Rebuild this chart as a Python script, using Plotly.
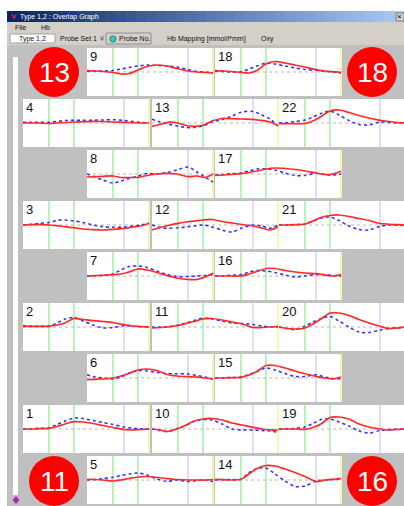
import plotly.graph_objects as go

# ---------------- data ----------------
time = [0, 8, 16, 26, 34, 42, 51, 60, 70, 80, 90, 101, 110, 118, 126]
marker_times = [26, 51, 101, 126]
marker_colors = ["#88ee88", "#88ee88", "#c8c8f4", "#f0f080"]

type1_ch1 = [0, 0, 0.3, 0.7, 2.5, 5, 7.3, 7, 5.5, 3.5, 1.5, -0.5, -1, -0.5, 0]
type2_ch1 = [0, 0.3, 0.7, 1.3, 4.5, 8, 11, 10.5, 8.5, 6.5, 4.5, 2, 0.7, 0.3, 0]
type1_ch2 = [0.7, 0.7, 0.7, 0.7, 2, 4, 8.5, 7.5, 6.3, 5.5, 4.5, 2.3, 1, 0.5, 0]
type2_ch2 = [1.3, 1, 0.7, 1, 4, 8, 9.5, 6, 2, -1, -0.5, 1.3, 0.7, 0.3, 0]
type1_ch3 = [0, 0.3, 0.7, 0, -0.7, -1.7, -2.7, -4, -4.7, -5, -4.3, -3.3, -2, -1, 1.7]
type2_ch3 = [0, 0.7, 1.5, 2.5, 4.5, 5, 4, 2.5, 0, -1.7, -2.3, -2, -1, 0, 1.7]
type1_ch4 = [0, 0, 0, -0.5, 0, 0.5, 1, 1.3, 1.7, 1.5, 1, 0.7, 0.3, 0, 0]
type2_ch4 = [0.7, 0.7, 0.7, 0.8, 1.5, 2.5, 2.7, 2.7, 2.8, 3, 3.3, 2.5, 1.5, 0.5, 0]
type1_ch5 = [0.7, 0.5, 0, -1, 0, 1.5, 3, 3.5, 2.5, 1.5, 0.5, 0, 0, 0, 0.5]
type2_ch5 = [0, 0.5, 1.5, 2.7, 4.5, 6, 7, 5, 1, -1.5, 0, -1.5, -0.5, 0, -1.5]
type1_ch6 = [-1.7, -1.3, -1, 0, 2, 4.5, 8, 9, 7.5, 3.5, 2, 1.3, 1, 0, -1]
type2_ch6 = [3.3, 1, 0, -1, 1, 5, 7.5, 7, 5.5, 4.5, 4.3, 4, 2.5, 1, -1]
type1_ch7 = [0, 0.3, 0.7, 1.3, 2, 4, 7, 6, 3.5, 0.5, -2, -3.5, -3.5, -1, 3]
type2_ch7 = [0, 0.3, 0.7, 2, 6, 9.5, 10, 8.5, 5, 1.5, -0.5, -0.5, 0, 0.5, 1.3]
type1_ch8 = [-3, -2.7, -2.3, -2, -3.5, -3.5, -3.3, -1.5, 0, 0.7, 0, -2.7, -2, -3.5, 0]
type2_ch8 = [0, -3, -6, -9, -7, -4.5, -2, 0.5, 0, 1.5, 4, 7, 2, -3, -8]
type1_ch9 = [1.3, 1, 0.5, -0.5, -2, -1.5, 2, 5.5, 7, 6, 3.5, 1, 0, -0.5, -1]
type2_ch9 = [0.7, 0.8, 1, 1.5, 3, 4.5, 6, 7, 6.5, 6, 5, 2.5, 0.5, 0, -1]
type1_ch10 = [0, -1, -2.5, 0.5, 4, 8, 10, 10.5, 9, 6, 4, 1.7, 0, -1, -1]
type2_ch10 = [0, -1.5, -2.5, 0.7, 3.5, 7.5, 9.5, 9, 5, 0, -1, -1, -1.5, -2, -3.3]
type1_ch11 = [-1, -0.5, 0, 1.5, 3.5, 5.5, 8, 8.5, 7, 5, 3, -0.5, -0.5, 0, 0.7]
type2_ch11 = [-0.3, 0, 0.3, 2, 4, 6.5, 9, 8, 6, 4, 3.5, 2.5, 1, 0.3, 0]
type1_ch12 = [-5, -2.5, -0.5, 1.7, 3, 4, 5, 5.5, 3.5, 2, 0.5, -1, -3, -5, -1.7]
type2_ch12 = [0, -2.5, -3.3, -2.7, -2, -1, 0, -2, -5, -7, -3, 0, -1, -3.3, 0]
type1_ch13 = [-3.3, -1.5, 0.7, 0, -2.5, -3.3, -2.3, 2, 4.5, 4.3, 4, 3.7, 2.5, 1, -2.5]
type2_ch13 = [3.7, 1, -1, -3.3, -4.5, -4.5, -3, 1, 3.5, 7, 11, 11.5, 8, 4, -3.3]
type1_ch14 = [0.7, 0.3, 0, 0.7, 6, 11.5, 14.5, 14, 11, 7.5, 3.5, -1.5, 0, 0.7, 1.7]
type2_ch14 = [0, 0.3, 0.5, 0.7, 7.5, 11.5, 12, 6, -1, -6.5, -6, -1, 0, 0.5, 0.7]
type1_ch15 = [0, 0, 0.3, 0.7, 3, 6.5, 12.5, 12.5, 10, 7, 4.3, 1.7, 0, -1, 1]
type2_ch15 = [0, 0.3, 0.5, 1, 3.5, 6.5, 10, 8, 4.5, 1.5, 1.5, 3.3, 1, -0.5, -1]
type1_ch16 = [0, 0, 0, 0, 2, 4.5, 7.5, 7.5, 5.5, 4, 3, 2.3, 1, 0, 1.3]
type2_ch16 = [0, 0.3, 0.7, 1.5, 4, 5.5, 5, 3.5, 1, -1, 0, 1.5, 1.5, 0.5, -0.3]
type1_ch17 = [-1.3, -1, -0.5, 0.3, 1.5, 3, 5, 6, 5.5, 4.5, 3, 1, -0.5, 0, 2.7]
type2_ch17 = [-1.3, -0.5, 0.3, 1, 3, 5, 5.3, 4, 1, -1.5, -1.5, 0.7, -0.5, -1, 0]
type1_ch18 = [1.3, 1, 0.5, -0.5, -1, 1.5, 8, 10.5, 9, 7, 5, 2.3, 1, 0.3, -0.3]
type2_ch18 = [0.7, 0.5, 0, 0.3, 3, 6, 9, 8, 6, 4, 2.5, 1.7, 0.7, 0, -1]
type1_ch19 = [0, 0, 0, -0.3, 1.5, 5, 11.5, 12, 10, 5, 2, 0, -1, -0.5, 0]
type2_ch19 = [0, 0, 0.7, 2, 5.5, 9.5, 10, 7, 3, -2, -4, -1.5, -0.5, 0, 0]
type1_ch20 = [0, -1.5, -2, -1, 3, 8, 14, 14, 11.5, 7.5, 4, 0.7, -1.5, -1, 0]
type2_ch20 = [0, -1.5, -2.7, 1, 5, 8.5, 10.5, 6, 0, -5, -5.5, -3, -1.5, -1, -1]
type1_ch21 = [0, 0, 0.3, 1, 4, 7.5, 9.5, 10, 8.5, 6.5, 4.5, 1.5, 0.7, 0.3, 0]
type2_ch21 = [0, 0, 0.3, 1, 4, 7, 8, 4.5, -1, -4.5, -5, -1.5, 0, -0.3, -0.5]
type1_ch22 = [-0.7, -0.7, -0.7, -0.5, 2, 6.5, 12, 13, 10.5, 7.5, 5, 2.7, 1.5, 0.5, 0]
type2_ch22 = [0, 0.5, 1.5, 3, 6, 9.5, 12, 8, 2.5, -1.5, -2, 1, 0.5, 0, 0]

type1 = {1: type1_ch1, 2: type1_ch2, 3: type1_ch3, 4: type1_ch4, 5: type1_ch5, 6: type1_ch6,
         7: type1_ch7, 8: type1_ch8, 9: type1_ch9, 10: type1_ch10, 11: type1_ch11, 12: type1_ch12,
         13: type1_ch13, 14: type1_ch14, 15: type1_ch15, 16: type1_ch16, 17: type1_ch17,
         18: type1_ch18, 19: type1_ch19, 20: type1_ch20, 21: type1_ch21, 22: type1_ch22}
type2 = {1: type2_ch1, 2: type2_ch2, 3: type2_ch3, 4: type2_ch4, 5: type2_ch5, 6: type2_ch6,
         7: type2_ch7, 8: type2_ch8, 9: type2_ch9, 10: type2_ch10, 11: type2_ch11, 12: type2_ch12,
         13: type2_ch13, 14: type2_ch14, 15: type2_ch15, 16: type2_ch16, 17: type2_ch17,
         18: type2_ch18, 19: type2_ch19, 20: type2_ch20, 21: type2_ch21, 22: type2_ch22}

circle_labels = ["13", "18", "11", "16"]

# ---------------- layout geometry (pixels) ----------------
W, H = 404, 506
PW, PH = 127, 48
panel_pos = {9: (87, 48), 18: (215, 48),
             4: (23, 99), 13: (152, 99), 22: (279, 99),
             8: (87, 150), 17: (215, 150),
             3: (23, 201), 12: (152, 201), 21: (279, 201),
             7: (87, 252), 16: (215, 252),
             2: (23, 303), 11: (152, 303), 20: (279, 303),
             6: (87, 354), 15: (215, 354),
             1: (23, 405), 10: (152, 405), 19: (279, 405),
             5: (87, 456), 14: (215, 456)}
circle_pos = [(54, 72), (372, 72), (54, 481), (372, 481)]


def px(x):
    return x / W


def py(y):
    return 1 - y / H


fig = go.Figure()
shapes = []
annotations = []
layout_axes = {}

for k, ch in enumerate(sorted(panel_pos), start=1):
    x0, y0 = panel_pos[ch]
    x1 = min(x0 + PW, W)
    xa = "x" if k == 1 else f"x{k}"
    ya = "y" if k == 1 else f"y{k}"
    xname = "xaxis" if k == 1 else f"xaxis{k}"
    yname = "yaxis" if k == 1 else f"yaxis{k}"
    layout_axes[xname] = dict(domain=[px(x0), px(x1)], range=[0, x1 - x0], visible=False,
                              anchor=ya, fixedrange=True)
    layout_axes[yname] = dict(domain=[py(y0 + PH), py(y0)], range=[-24, 24], visible=False,
                              anchor=xa, fixedrange=True)
    for t, c in zip(marker_times, marker_colors):
        shapes.append(dict(type="line", xref=xa, yref=f"{ya} domain", x0=t, x1=t, y0=0, y1=1,
                           line=dict(color=c, width=1.2), layer="below"))
    shapes.append(dict(type="line", xref=f"{xa} domain", yref=ya, x0=0, x1=1, y0=0, y1=0,
                       line=dict(color="#b8b8b8", width=1, dash="dot"), layer="below"))
    fig.add_trace(go.Scatter(x=time, y=type2[ch], mode="lines", xaxis=xa, yaxis=ya,
                             line=dict(color="#2b2bff", width=1.5, dash="dot", shape="spline",
                                       smoothing=0.8),
                             showlegend=False, hoverinfo="skip"))
    fig.add_trace(go.Scatter(x=time, y=type1[ch], mode="lines", xaxis=xa, yaxis=ya,
                             line=dict(color="#ff2a2a", width=1.7, shape="spline", smoothing=0.8),
                             showlegend=False, hoverinfo="skip"))
    annotations.append(dict(text=str(ch), xref=f"{xa} domain", yref=f"{ya} domain",
                            x=0.0, y=1.02, xanchor="left", yanchor="top", showarrow=False,
                            xshift=1, font=dict(size=13, color="#111111",
                                                family="Liberation Sans, Arial")))

# ---------------- window chrome ----------------
shapes.append(dict(type="rect", xref="paper", yref="paper", x0=0, x1=px(7), y0=0, y1=1,
                   fillcolor="white", line_width=0, layer="above"))
shapes.append(dict(type="rect", xref="paper", yref="paper", x0=0, x1=1, y0=py(11), y1=1,
                   fillcolor="white", line_width=0, layer="above"))
n_steps = 40
c0 = (10, 36, 106)
c1 = (166, 202, 240)
for i in range(n_steps):
    f = i / (n_steps - 1)
    col = "rgb({},{},{})".format(*[int(a + (b - a) * f) for a, b in zip(c0, c1)])
    xa0 = 7 + (W - 7) * i / n_steps
    xa1 = 7 + (W - 7) * (i + 1) / n_steps + 0.5
    shapes.append(dict(type="rect", xref="paper", yref="paper", x0=px(xa0), x1=px(xa1),
                       y0=py(22), y1=py(11), fillcolor=col, line_width=0, layer="above"))
shapes.append(dict(type="rect", xref="paper", yref="paper", x0=px(7), x1=1, y0=py(45), y1=py(22),
                   fillcolor="#d4d0c8", line_width=0, layer="above"))
shapes.append(dict(type="rect", xref="paper", yref="paper", x0=px(396), x1=px(404), y0=py(21),
                   y1=py(13), fillcolor="#d4d0c8", line=dict(color="#808080", width=1),
                   layer="above"))
shapes.append(dict(type="rect", xref="paper", yref="paper", x0=px(10), x1=px(55), y0=py(43),
                   y1=py(34), fillcolor="white", line=dict(color="#a0a0a0", width=1),
                   layer="above"))
shapes.append(dict(type="rect", xref="paper", yref="paper", x0=px(106), x1=px(151), y0=py(44),
                   y1=py(33), fillcolor="#d4d0c8", line=dict(color="#909090", width=1),
                   layer="above"))
shapes.append(dict(type="circle", xref="paper", yref="paper", x0=px(110), x1=px(116),
                   y0=py(42), y1=py(36), fillcolor="#30d0c0", line=dict(color="#208080", width=1),
                   layer="above"))
shapes.append(dict(type="rect", xref="paper", yref="paper", x0=px(13), x1=px(18), y0=py(495),
                   y1=py(57), fillcolor="white", line_width=0, layer="above"))
shapes.append(dict(type="path", xref="paper", yref="paper",
                   path="M {} {} L {} {} L {} {} L {} {} Z".format(
                       px(16), py(496), px(19.5), py(500), px(16), py(504), px(12.5), py(500)),
                   fillcolor="#b020c0", line_width=0, layer="above"))

for (cx, cy), lab in zip(circle_pos, circle_labels):
    shapes.append(dict(type="circle", xref="paper", yref="paper", x0=px(cx - 25), x1=px(cx + 25),
                       y0=py(cy + 25), y1=py(cy - 25), fillcolor="#ff0000", line_width=0,
                       layer="above"))
    annotations.append(dict(text=lab, xref="paper", yref="paper", x=px(cx), y=py(cy),
                            xanchor="center", yanchor="middle", showarrow=False,
                            font=dict(size=28, color="white", family="Liberation Sans, Arial")))

ui_font = dict(size=7, color="#101010", family="Liberation Sans, Arial")


def ui_text(text, x, y, font=None, anchor="left"):
    annotations.append(dict(text=text, xref="paper", yref="paper", x=px(x), y=py(y),
                            xanchor=anchor, yanchor="middle", showarrow=False,
                            font=font or ui_font))


ui_text("<b>V</b>", 9, 16.5, dict(size=8, color="#ff2020", family="Liberation Sans"))
ui_text("Type 1,2 : Overlap Graph", 18, 16.5, dict(size=7, color="white",
                                                   family="Liberation Sans, Arial"))
ui_text("×", 399.5, 16.5, dict(size=8, color="black", family="Liberation Sans"), "center")
ui_text("File", 13, 27)
ui_text("Hb", 39, 27)
ui_text("Type 1,2", 32, 38.5, anchor="center")
ui_text("Probe Set 1", 58, 38.5)
ui_text("¥", 98, 38.5, dict(size=7, color="#4060c0", family="Liberation Sans"))
ui_text("Probe No.", 117, 38.5)
ui_text("Hb Mapping [mmol/l*mm]", 165, 38.5)
ui_text("Oxy", 259, 38.5)

fig.update_layout(width=W, height=H, autosize=False,
                  margin=dict(l=0, r=0, t=0, b=0, pad=0),
                  paper_bgcolor="#c0c0c0", plot_bgcolor="white",
                  shapes=shapes, annotations=annotations, showlegend=False,
                  **layout_axes)

fig.write_html("out.html", config={"displayModeBar": False},
               post_script="document.body.style.margin='0';")
